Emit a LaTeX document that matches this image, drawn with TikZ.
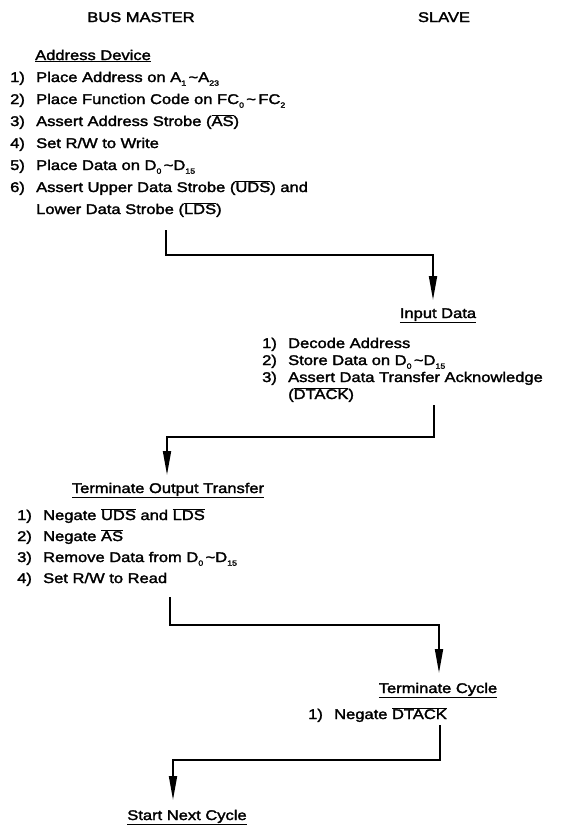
\documentclass[tikz,border=0pt]{standalone}
\usepackage{fontspec}
\setmainfont{Liberation Sans}[FakeStretch=1.18,FakeBold=2]
\usetikzlibrary{arrows.meta}
\newcommand\lowidx[1]{\raisebox{-0.5ex}{\fontsize{7.5}{8}\selectfont #1}}
\newcommand\ovl[1]{$\overline{\hbox{#1}}$}
\newcommand\tld{\,\textasciitilde}
\newcommand\numbox[1]{\makebox[26pt][l]{#1}}
\begin{document}
\begin{tikzpicture}[x=1pt,y=-1pt,
  txt/.style={inner sep=0pt, font=\fontsize{14}{22}\selectfont},
  txtslave/.style={inner sep=0pt, font=\fontsize{14}{17}\selectfont},
  txtterm/.style={inner sep=0pt, font=\fontsize{14}{21}\selectfont},
  conn/.style={line width=1.8pt, -{Triangle[length=24pt,width=8pt]}}]
\useasboundingbox (0,0) rectangle (563,825);
% headings
\node[txt, anchor=base] (bm) at (141,22) {BUS MASTER};
\node[txt, anchor=base] (sl) at (444,22) {SLAVE};
% address device
\node[txt, anchor=base west] (ad) at (35,60) {\underline{Address Device}};
\node[txt, anchor=base west] (mlist) at (10,82) {\begin{tabular}[t]{@{}l@{}l@{}}
\numbox{1)} & Place Address on A\lowidx{1}\tld A\lowidx{23}\\
\numbox{2)} & Place Function Code on FC\lowidx{0}\tld\,FC\lowidx{2}\\
\numbox{3)} & Assert Address Strobe (\ovl{AS})\\
\numbox{4)} & Set R/W to Write\\
\numbox{5)} & Place Data on D\lowidx{0}\tld D\lowidx{15}\\
\numbox{6)} & Assert Upper Data Strobe (\ovl{UDS}) and\\
 & Lower Data Strobe (\ovl{LDS})
\end{tabular}};
% input data
\node[txt, anchor=base] (in) at (438,318) {\underline{Input Data}};
\node[txtslave, anchor=base west] (slist) at (262,348) {\begin{tabular}[t]{@{}l@{}l@{}}
\numbox{1)} & Decode Address\\
\numbox{2)} & Store Data on D\lowidx{0}\tld D\lowidx{15}\\
\numbox{3)} & Assert Data Transfer Acknowledge\\
 & (\ovl{DTACK})
\end{tabular}};
% terminate output transfer
\node[txt, anchor=base] (tot) at (168,493) {\underline{Terminate Output Transfer}};
\node[txtterm, anchor=base west] (tlist) at (17,520) {\begin{tabular}[t]{@{}l@{}l@{}}
\numbox{1)} & Negate \ovl{UDS} and \ovl{LDS}\\
\numbox{2)} & Negate \ovl{AS}\\
\numbox{3)} & Remove Data from D\lowidx{0}\tld D\lowidx{15}\\
\numbox{4)} & Set R/W to Read
\end{tabular}};
% terminate cycle
\node[txt, anchor=base] (tc) at (438,693) {\underline{Terminate Cycle}};
\node[txt, anchor=base west] (nd) at (308,719) {\numbox{1)}Negate \ovl{DTACK}};
% start next cycle
\node[txt, anchor=base] (snc) at (187,820) {\underline{Start Next Cycle}};
% connectors
\coordinate (s1) at (166,230); \coordinate (e1) at (433,300);
\coordinate (s2) at (434,405); \coordinate (e2) at (167,475);
\coordinate (s3) at (170,597); \coordinate (e3) at (439,673);
\coordinate (s4) at (440,725); \coordinate (e4) at (173,800);
\draw[conn] (s1) -- ++(0,25) -| (e1);
\draw[conn] (s2) -- ++(0,32) -| (e2);
\draw[conn] (s3) -- ++(0,28) -| (e3);
\draw[conn] (s4) -- ++(0,35) -| (e4);
\end{tikzpicture}
\end{document}
